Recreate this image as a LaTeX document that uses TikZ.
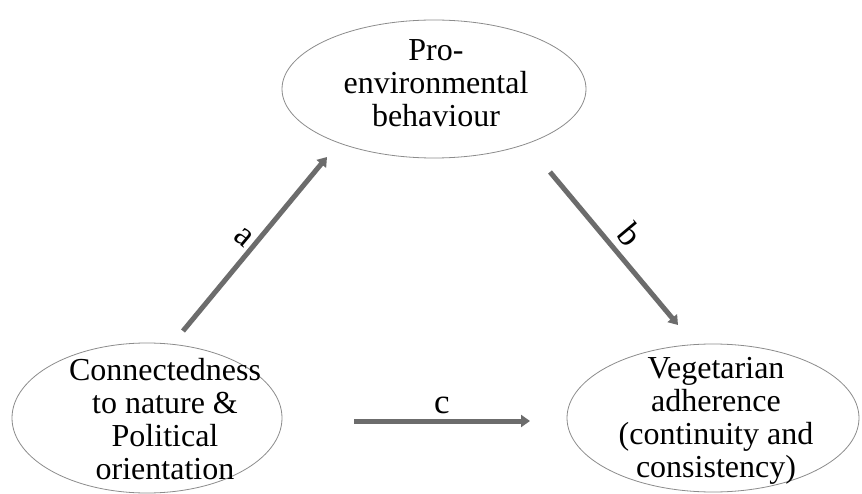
\documentclass[tikz,border=0pt]{standalone}
\usepackage{fontspec}
\setmainfont{Liberation Serif}
\usetikzlibrary{shapes.geometric,arrows.meta}
\definecolor{arrowgray}{RGB}{108,108,108}
\definecolor{ellgray}{RGB}{140,140,140}
\begin{document}
\begin{tikzpicture}[x=1pt,y=-1pt,
  ell/.style={draw=ellgray,line width=0.8pt,ellipse,inner sep=0pt},
  txt/.style={align=center,inner sep=0pt,font=\fontsize{32}{33}\selectfont},
  lbl/.style={inner sep=0pt,font=\fontsize{35}{36}\selectfont},
  conn/.style={draw=arrowgray,line width=5pt,-{Triangle[length=9pt,width=12pt]}}]
\useasboundingbox (0,0) rectangle (862,494);
\fill[white] (0,0) rectangle (862,494);
% ellipses
\node[ell,minimum width=304pt,minimum height=138pt] (pro) at (434,89) {};
\node[ell,minimum width=270pt,minimum height=150pt] (con) at (147,418) {};
\node[ell,minimum width=292pt,minimum height=148pt] (veg) at (713,418) {};
% texts
\node[txt] (protxt) at (436,83.5) {Pro-\\environmental\\behaviour};
\node[txt] (contxt) at (165,419) {Connectedness\\to nature \&\\Political\\orientation};
\node[txt] (vegtxt) at (716,421) {Vegetarian\\adherence\\(continuity and\\consistency)};
% arrow end points
\coordinate (a1) at (183,331);
\coordinate (a2) at (327,157);
\coordinate (b1) at (550,172);
\coordinate (b2) at (678,325);
\coordinate (c1) at (354,421);
\coordinate (c2) at (530,421);
\draw[conn] (a1) -- (a2);
\draw[conn] (b1) -- (b2);
\draw[conn] (c1) -- (c2);
% labels
\node[lbl,rotate=-40] (la) at (244,237) {a};
\node[lbl,rotate=-50] (lb) at (630,235) {b};
\node[lbl,anchor=base] (lc) at (442,413) {c};
\end{tikzpicture}
\end{document}
